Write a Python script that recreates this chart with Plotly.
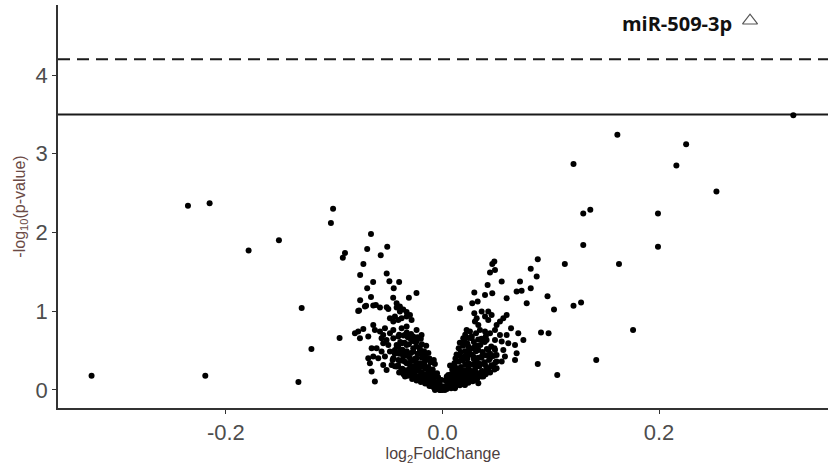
import plotly.graph_objects as go

# ---------------- data (log2 fold change, -log10 p-value) ----------------
# isolated points, left side
left_x = [-0.324, -0.235, -0.215, -0.219, -0.179, -0.151, -0.133, -0.130, -0.121,
          -0.103, -0.101, -0.095, -0.092, -0.090]
left_y = [0.18, 2.34, 2.37, 0.18, 1.77, 1.90, 0.10, 1.04, 0.52,
          2.12, 2.30, 0.66, 1.68, 1.74]

# isolated points, right side
right_x = [0.324, 0.1615, 0.225, 0.121, 0.216, 0.253, 0.1365, 0.130, 0.199, 0.130,
           0.199, 0.088, 0.113, 0.163, 0.0815, 0.087, 0.0815, 0.097, 0.103, 0.121,
           0.128, 0.091, 0.098, 0.176, 0.088, 0.142, 0.106]
right_y = [3.49, 3.24, 3.12, 2.87, 2.85, 2.52, 2.29, 2.24, 2.24, 1.84,
           1.82, 1.66, 1.60, 1.60, 1.54, 1.44, 1.29, 1.19, 1.02, 1.07,
           1.11, 0.73, 0.72, 0.76, 0.33, 0.38, 0.19]

# left arm of the cluster
cl_left_x = [-0.066, -0.0695, -0.051, -0.057, -0.073, -0.076, -0.0515, -0.064, -0.049, -0.040,
             -0.0695, -0.045, -0.024, -0.066, -0.031, -0.076, -0.0455, -0.0705, -0.0615, -0.077,
             -0.0515, -0.0423, -0.0393, -0.0362, -0.0331,
             -0.0778, -0.0716, -0.0639, -0.0577, -0.0500, -0.0423, -0.0393,
             -0.0439, -0.0408, -0.0454, -0.0485, -0.0377, -0.0331, -0.0285, -0.0300,
             -0.0808, -0.0778, -0.0731, -0.0639, -0.0624, -0.0577, -0.0547, -0.0531, -0.0485, -0.0454,
             -0.0377, -0.0331, -0.0239, -0.0193, -0.0208,
             -0.0762, -0.0685, -0.0562, -0.0516, -0.0454, -0.0408, -0.0346, -0.0300, -0.0270,
             -0.0547, -0.0500, -0.0423, -0.0377, -0.0331, -0.0239,
             -0.0654, -0.0608, -0.0562, -0.0485, -0.0439, -0.0393, -0.0331, -0.0270, -0.0208,
             -0.0685, -0.0639, -0.0593, -0.0531, -0.0454, -0.0408, -0.0362, -0.0300, -0.0239, -0.0177, -0.0162,
             -0.0670, -0.0547, -0.0470, -0.0423, -0.0331, -0.0285, -0.0223, -0.0162, -0.0131,
             -0.0654, -0.0516, -0.0362, -0.0254, -0.0193, -0.0131, -0.0085,
             -0.0624, -0.0346, -0.0208, -0.0147, -0.0100, -0.0054, -0.0023,
             -0.0070, -0.0023]
cl_left_y = [1.98, 1.79, 1.82, 1.71, 1.60, 1.46, 1.48, 1.37, 1.38, 1.37,
             1.29, 1.29, 1.23, 1.18, 1.17, 1.14, 1.17, 1.07, 1.08, 1.01,
             1.05, 1.10, 1.06, 1.02, 0.99,
             1.003, 1.058, 1.071, 1.046, 1.029, 1.046, 0.995,
             0.931, 0.889, 0.868, 0.910, 0.910, 0.931, 0.889, 0.952,
             0.720, 0.741, 0.775, 0.825, 0.762, 0.741, 0.698, 0.783, 0.720, 0.762,
             0.783, 0.804, 0.762, 0.698, 0.656,
             0.656, 0.677, 0.656, 0.635, 0.656, 0.677, 0.698, 0.656, 0.677,
             0.593, 0.571, 0.571, 0.593, 0.571, 0.614,
             0.529, 0.529, 0.487, 0.487, 0.508, 0.487, 0.466, 0.487, 0.508,
             0.402, 0.423, 0.402, 0.423, 0.402, 0.381, 0.423, 0.402, 0.402, 0.444, 0.360,
             0.339, 0.317, 0.317, 0.296, 0.339, 0.296, 0.317, 0.296, 0.254,
             0.233, 0.254, 0.254, 0.233, 0.212, 0.190, 0.169,
             0.106, 0.169, 0.148, 0.127, 0.106, 0.085, 0.063,
             0.021, 0.000]

# dense bottom of the left arm
v_left_x = [-0.040, -0.041, -0.039, -0.040, -0.041, -0.039, -0.040,
            -0.036, -0.037, -0.035, -0.036, -0.037, -0.035, -0.036,
            -0.032, -0.033, -0.031, -0.032, -0.033, -0.031, -0.032, -0.033,
            -0.028, -0.029, -0.027, -0.028, -0.029, -0.027, -0.028, -0.029,
            -0.024, -0.025, -0.023, -0.024, -0.025, -0.023, -0.024, -0.025, -0.023,
            -0.020, -0.021, -0.019, -0.020, -0.021, -0.019, -0.020, -0.021, -0.019, -0.020,
            -0.016, -0.017, -0.015, -0.016, -0.017, -0.015, -0.016, -0.017, -0.015,
            -0.012, -0.013, -0.011, -0.012, -0.013, -0.011, -0.012, -0.013,
            -0.008, -0.009, -0.007, -0.008, -0.009, -0.007, -0.008,
            -0.004, -0.005, -0.003, -0.004, -0.005,
            0.000, -0.001, 0.001,
            -0.030, -0.026, -0.022, -0.018, -0.014, -0.010, -0.006, -0.026, -0.022, -0.018,
            -0.014, -0.010, -0.006, -0.034, -0.030, -0.038, -0.044, -0.046, -0.044, -0.042]
v_left_y = [0.22, 0.31, 0.37, 0.46, 0.55, 0.61, 0.70,
            0.20, 0.27, 0.36, 0.45, 0.51, 0.60, 0.69,
            0.18, 0.25, 0.34, 0.43, 0.49, 0.58, 0.67, 0.73,
            0.14, 0.23, 0.30, 0.37, 0.47, 0.53, 0.62, 0.71,
            0.12, 0.18, 0.26, 0.34, 0.40, 0.46, 0.55, 0.61, 0.67,
            0.10, 0.17, 0.22, 0.29, 0.34, 0.41, 0.46, 0.53, 0.58, 0.65,
            0.08, 0.13, 0.20, 0.27, 0.32, 0.39, 0.44, 0.49, 0.56,
            0.05, 0.12, 0.17, 0.22, 0.29, 0.35, 0.40, 0.47,
            0.03, 0.09, 0.16, 0.21, 0.26, 0.33, 0.38,
            0.01, 0.07, 0.11, 0.16, 0.21,
            0.00, 0.03, 0.04,
            0.20, 0.17, 0.14, 0.11, 0.08, 0.05, 0.03, 0.27, 0.24, 0.18,
            0.15, 0.12, 0.09, 0.24, 0.28, 0.26, 0.30, 0.38, 0.46, 0.55]

# right arm of the cluster
cl_right_x = [0.0479, 0.0460, 0.0439, 0.0485,
              0.0547, 0.0417, 0.0716, 0.0685, 0.0731, 0.0294, 0.0460, 0.0393, 0.0593, 0.0325,
              0.0275, 0.0778, 0.0162,
              0.0362, 0.0423, 0.0294, 0.0316, 0.0393, 0.0454, 0.0593, 0.0562, 0.0531, 0.0300,
              0.0331, 0.0423, 0.0500, 0.0633, 0.0223, 0.0254, 0.0346, 0.0393, 0.0439, 0.0485,
              0.0531, 0.0593, 0.0700, 0.0747,
              0.0192, 0.0269, 0.0362, 0.0408, 0.0485, 0.0547, 0.0608, 0.0670, 0.0300, 0.0239,
              0.0331, 0.0423, 0.0485, 0.0562, 0.0223, 0.0285, 0.0362, 0.0439, 0.0500, 0.0577, 0.0685,
              0.0177, 0.0239, 0.0300, 0.0393, 0.0470, 0.0547, 0.0670,
              0.0115, 0.0162, 0.0223, 0.0285, 0.0362, 0.0423, 0.0500,
              0.0054, 0.0115, 0.0177, 0.0239, 0.0300, 0.0377,
              -0.0008, 0.0039, 0.0085, 0.0146, 0.0208, 0.0331,
              -0.0038, 0.0008, 0.0054, 0.0115, -0.0023, -0.0069, 0.0023]
cl_right_y = [1.630, 1.600, 1.490, 1.524,
              1.376, 1.333, 1.376, 1.249, 1.261, 1.236, 1.227, 1.206, 1.164, 1.122,
              1.100, 1.100, 1.037,
              0.995, 0.995, 0.973, 0.910, 0.931, 0.952, 0.952, 0.910, 0.868, 0.868,
              0.825, 0.889, 0.825, 0.783, 0.762, 0.741, 0.762, 0.741, 0.720, 0.762,
              0.698, 0.698, 0.720, 0.635,
              0.656, 0.656, 0.635, 0.635, 0.635, 0.614, 0.593, 0.571, 0.550, 0.550,
              0.508, 0.508, 0.508, 0.508, 0.466, 0.423, 0.423, 0.402, 0.444, 0.423, 0.466,
              0.381, 0.339, 0.317, 0.317, 0.317, 0.360, 0.381,
              0.296, 0.254, 0.233, 0.212, 0.233, 0.254, 0.275,
              0.190, 0.169, 0.148, 0.148, 0.127, 0.169,
              0.127, 0.106, 0.085, 0.085, 0.063, 0.085,
              0.063, 0.042, 0.042, 0.021, 0.000, 0.000, 0.000]

# dense bottom of the right arm
v_right_x = [0.004, 0.005, 0.003, 0.004,
             0.008, 0.009, 0.007, 0.008, 0.009, 0.007,
             0.012, 0.013, 0.011, 0.012, 0.013, 0.011, 0.012, 0.013,
             0.016, 0.017, 0.015, 0.016, 0.017, 0.015, 0.016, 0.017, 0.015, 0.016,
             0.020, 0.021, 0.019, 0.020, 0.021, 0.019, 0.020, 0.021, 0.019, 0.020, 0.021,
             0.024, 0.025, 0.023, 0.024, 0.025, 0.023, 0.024, 0.025, 0.023, 0.024,
             0.028, 0.029, 0.027, 0.028, 0.029, 0.027, 0.028, 0.029, 0.027,
             0.032, 0.033, 0.031, 0.032, 0.033, 0.031, 0.032, 0.033, 0.031,
             0.036, 0.037, 0.035, 0.036, 0.037, 0.035, 0.036,
             0.040, 0.041, 0.039, 0.040, 0.041, 0.039, 0.040,
             0.044, 0.045, 0.043, 0.044, 0.045,
             0.048, 0.049, 0.047, 0.048,
             0.006, 0.010, 0.014, 0.018, 0.022, 0.026, 0.030, 0.034, 0.006, 0.010,
             0.014, 0.018, 0.022, 0.026, 0.030, 0.034, 0.038, 0.042, 0.046, 0.050]
v_right_y = [0.01, 0.06, 0.12, 0.17,
             0.02, 0.08, 0.13, 0.20, 0.26, 0.31,
             0.04, 0.10, 0.17, 0.22, 0.27, 0.34, 0.40, 0.45,
             0.06, 0.12, 0.19, 0.24, 0.29, 0.36, 0.43, 0.48, 0.53, 0.60,
             0.07, 0.14, 0.19, 0.25, 0.32, 0.37, 0.42, 0.49, 0.56, 0.62, 0.70,
             0.09, 0.15, 0.22, 0.27, 0.33, 0.40, 0.45, 0.51, 0.59, 0.66,
             0.11, 0.18, 0.24, 0.32, 0.39, 0.45, 0.53, 0.61, 0.68,
             0.14, 0.21, 0.29, 0.35, 0.41, 0.49, 0.56, 0.64, 0.72,
             0.17, 0.24, 0.33, 0.41, 0.48, 0.57, 0.65,
             0.20, 0.28, 0.35, 0.44, 0.52, 0.61, 0.68,
             0.22, 0.31, 0.38, 0.46, 0.55,
             0.26, 0.35, 0.43, 0.53,
             0.04, 0.07, 0.09, 0.10, 0.12, 0.15, 0.18, 0.20, 0.10, 0.14,
             0.16, 0.21, 0.18, 0.22, 0.25, 0.30, 0.22, 0.26, 0.30, 0.36]

# thresholds and annotation
solid_threshold = 3.5
dashed_threshold = 4.2
label_text = "miR-509-3p"
label_x = [0.2166]
label_y = [4.62]
marker_x = [0.284]
marker_y = [4.69]

x_ticks = [-0.2, 0.0, 0.2]
x_tick_labels = ["-0.2", "0.0", "0.2"]
y_ticks = [0, 1, 2, 3, 4]
y_tick_labels = ["0", "1", "2", "3", "4"]

# ---------------- figure ----------------
all_x = left_x + right_x + cl_left_x + v_left_x + cl_right_x + v_right_x
all_y = left_y + right_y + cl_left_y + v_left_y + cl_right_y + v_right_y

fig = go.Figure()
fig.add_trace(go.Scatter(
    x=all_x, y=all_y, mode="markers",
    marker=dict(size=6, color="black", line=dict(width=0)),
    hoverinfo="x+y", showlegend=False))

fig.add_hline(y=dashed_threshold, line=dict(color="#1a1a1a", width=2, dash="12px,7px"), layer="below")
fig.add_hline(y=solid_threshold, line=dict(color="#1a1a1a", width=2), layer="below")

fig.add_trace(go.Scatter(
    x=label_x, y=label_y, mode="text", text=[label_text],
    textfont=dict(family="Open Sans", size=20, color="#111111"),
    texttemplate="<b>%{text}</b>", showlegend=False, hoverinfo="skip"))
fig.add_trace(go.Scatter(
    x=marker_x, y=marker_y, mode="markers",
    marker=dict(symbol="triangle-up-open", size=13, color="#555555", line=dict(width=1.2)),
    showlegend=False, hoverinfo="skip"))

axis_common = dict(
    showgrid=False, zeroline=False, showline=True, linecolor="#333333", linewidth=1.5,
    ticks="outside", ticklen=4, tickcolor="#333333", tickwidth=1.2,
    tickfont=dict(family="Liberation Sans, Arial", size=22, color="#4d4d4d"),
    automargin=False,
)

fig.update_layout(
    width=830, height=469,
    paper_bgcolor="white", plot_bgcolor="white",
    margin=dict(l=58, r=2, t=5, b=61),
    xaxis=dict(range=[-0.355, 0.356], tickvals=x_ticks, ticktext=x_tick_labels,
               title=dict(text="log<sub>2</sub>FoldChange", standoff=2,
                          font=dict(family="Liberation Sans, Arial", size=16, color="#4d4040")),
               **axis_common),
    yaxis=dict(range=[-0.23, 4.89], tickvals=y_ticks, ticktext=y_tick_labels,
               title=dict(text="-log<sub>10</sub>(p-value)", standoff=6,
                          font=dict(family="Liberation Sans, Arial", size=16, color="#6b4a45")),
               **axis_common),
)

fig.write_html("out.html", config={"displayModeBar": False},
               post_script="document.body.style.margin='0';")
